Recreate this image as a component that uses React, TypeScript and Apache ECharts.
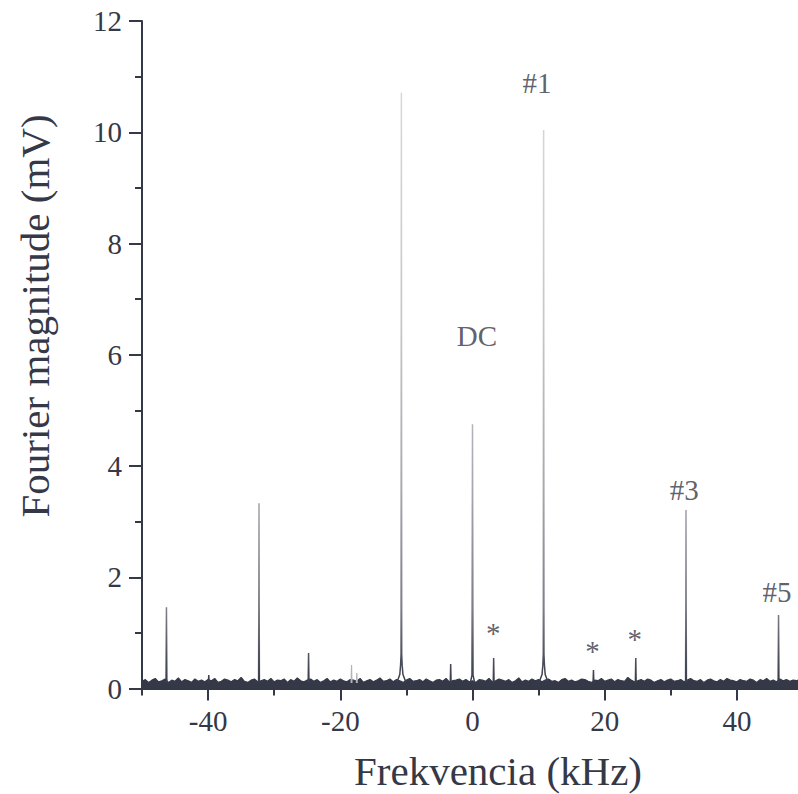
import React, { useEffect, useRef } from "react";
import * as echarts from "echarts";

// ---- data ----
const freqStart = -50; // kHz, first FFT bin shown
const freqStep = 0.5; // kHz between noise samples
const noiseFloor = [
  0.13, 0.16, 0.11, 0.15, 0.18, 0.12, 0.14, 0.17, 0.11, 0.15, 0.13, 0.19, 0.12, 0.16, 0.14, 0.11, 0.17, 0.13, 0.15, 0.12,
  0.16, 0.14, 0.18, 0.11, 0.13, 0.17, 0.15, 0.12, 0.16, 0.14, 0.20, 0.13, 0.11, 0.15, 0.17, 0.12, 0.14, 0.16, 0.13, 0.18,
  0.12, 0.15, 0.14, 0.17, 0.11, 0.16, 0.13, 0.19, 0.14, 0.12, 0.15, 0.17, 0.13, 0.16, 0.11, 0.14, 0.18, 0.12, 0.15, 0.13,
  0.17, 0.14, 0.12, 0.16, 0.15, 0.13, 0.18, 0.11, 0.14, 0.16, 0.12, 0.15, 0.19, 0.13, 0.14, 0.17, 0.12, 0.16, 0.14, 0.11,
  0.15, 0.18, 0.13, 0.14, 0.16, 0.12, 0.17, 0.14, 0.11, 0.15, 0.16, 0.13, 0.18, 0.12, 0.14, 0.15, 0.17, 0.13, 0.16, 0.12,
  0.14, 0.11, 0.16, 0.15, 0.13, 0.18, 0.12, 0.14, 0.17, 0.15, 0.13, 0.16, 0.11, 0.14, 0.19, 0.12, 0.15, 0.13, 0.17, 0.14,
  0.16, 0.12, 0.15, 0.17, 0.13, 0.14, 0.11, 0.16, 0.18, 0.13, 0.15, 0.12, 0.14, 0.17, 0.16, 0.13, 0.11, 0.15, 0.14, 0.18,
  0.13, 0.15, 0.17, 0.12, 0.16, 0.14, 0.13, 0.20, 0.15, 0.12, 0.14, 0.16, 0.13, 0.17, 0.15, 0.11, 0.14, 0.16, 0.12, 0.15,
  0.17, 0.13, 0.14, 0.16, 0.12, 0.15, 0.18, 0.14, 0.13, 0.16, 0.11, 0.15, 0.17, 0.14, 0.12, 0.16, 0.13, 0.18, 0.15, 0.14,
  0.12, 0.16, 0.14, 0.13, 0.17, 0.15, 0.11, 0.16, 0.14, 0.18, 0.13, 0.15, 0.12, 0.17, 0.14, 0.16, 0.13, 0.15, 0.14, 0.16,
];

// narrow spectral lines: frequency (kHz) and magnitude (mV)
const spikeFreqs = [-46.3, -39.9, -32.3, -24.8, -3.3, 3.2, 18.3, 24.7, 32.3, 46.3];
const spikeAmps = [1.46, 0.24, 3.33, 0.64, 0.44, 0.55, 0.33, 0.55, 3.21, 1.32];
const spikeBase = 0.1;
const spikeHalfWidth = 0.06;

// faint lines near -18 kHz
const faintFreqs = [-18.3, -17.5];
const faintAmps = [0.42, 0.28];

// broadened peaks (fundamental ±10.76 kHz and DC)
const fundamentalNeg = [
  [-11.4, 0.12], [-11.0, 0.25], [-10.88, 0.42], [-10.81, 0.62], [-10.76, 10.71],
  [-10.71, 0.62], [-10.64, 0.42], [-10.52, 0.25], [-10.1, 0.12],
];
const dcPeak = [[-0.3, 0.12], [-0.08, 0.24], [0, 4.75], [0.08, 0.24], [0.3, 0.12]];
const fundamentalPos = [
  [10.1, 0.12], [10.52, 0.25], [10.64, 0.42], [10.71, 0.62], [10.76, 10.04],
  [10.81, 0.62], [10.88, 0.42], [11.0, 0.25], [11.4, 0.12],
];

// annotations
const annotationText = ["#1", "DC", "#3", "#5", "*", "*", "*"];
const annotationX = [9.77, 0.68, 32.05, 46.06, 3.14, 18.14, 24.55];
const annotationY = [10.88, 6.33, 3.57, 1.73, 1.0, 0.67, 0.89];

const xMajorTicks = [-40, -20, 0, 20, 40];
const xMinorTicks = [-50, -30, -10, 10, 30];

const xTitle = "Frekvencia (kHz)";
const yTitle = "Fourier magnitude (mV)";

const INK = "#353846";
const FONT = "serif";

export default function App() {
  const ref = useRef<HTMLDivElement>(null);

  useEffect(() => {
    if (!ref.current) return;
    const chart = echarts.init(ref.current, undefined, { renderer: "svg" });

    const noiseData = noiseFloor.map((v, i) => [freqStart + i * freqStep, v]);

    const spikeData: any[] = [];
    spikeFreqs.forEach((f, i) => {
      spikeData.push([f - spikeHalfWidth, spikeBase], [f, spikeAmps[i]], [f + spikeHalfWidth, spikeBase], null);
    });
    [fundamentalNeg, dcPeak, fundamentalPos].forEach((shape) => {
      shape.forEach((p) => spikeData.push(p));
      spikeData.push(null);
    });
    const faintData: any[] = [];
    faintFreqs.forEach((f, i) => {
      faintData.push([f - spikeHalfWidth, spikeBase], [f, faintAmps[i]], [f + spikeHalfWidth, spikeBase], null);
    });

    const annData = annotationText.map((t, i) => ({ name: t, value: [annotationX[i], annotationY[i]] }));

    const peakGradient = new echarts.graphic.LinearGradient(
      0, 21, 0, 688,
      [
        { offset: 0, color: "#dcdcdf" },
        { offset: 0.45, color: "#c6c7cb" },
        { offset: 0.7, color: "#a7a8ae" },
        { offset: 0.88, color: "#7d7f89" },
        { offset: 0.96, color: "#4a4d5a" },
        { offset: 1, color: INK },
      ],
      true
    );

    chart.setOption({
      animation: false,
      grid: { left: 142, top: 21, width: 661, bottom: 105.5, containLabel: false },
      xAxis: [
        {
          type: "value",
          min: -50,
          max: 50,
          position: "bottom",
          axisLine: { show: true, onZero: false, lineStyle: { color: INK, width: 2 } },
          axisTick: { show: true, customValues: xMajorTicks, length: 12, lineStyle: { color: INK, width: 2 } },
          axisLabel: { show: true, customValues: xMajorTicks, margin: 18, fontFamily: FONT, fontSize: 29, color: INK },
          splitLine: { show: false },
        },
        {
          type: "value",
          min: -50,
          max: 50,
          position: "bottom",
          axisLine: { show: false, onZero: false },
          axisTick: { show: true, customValues: xMinorTicks, length: 7, lineStyle: { color: INK, width: 2 } },
          axisLabel: { show: false },
          splitLine: { show: false },
        },
      ],
      yAxis: {
        type: "value",
        min: 0,
        max: 12,
        interval: 2,
        axisLine: { show: true, onZero: false, lineStyle: { color: INK, width: 2 } },
        axisTick: { show: true, length: 13, lineStyle: { color: INK, width: 2 } },
        minorTick: { show: true, splitNumber: 2, length: 7, lineStyle: { color: INK, width: 2 } },
        axisLabel: { margin: 20, fontFamily: FONT, fontSize: 29, color: INK },
        splitLine: { show: false },
      },
      graphic: [
        {
          type: "text",
          x: 498,
          y: 771,
          style: {
            text: xTitle,
            fontFamily: FONT,
            fontSize: 41,
            fill: INK,
            align: "center",
            verticalAlign: "middle",
          },
        },
        {
          type: "text",
          x: 35,
          y: 316,
          rotation: Math.PI / 2,
          style: {
            text: yTitle,
            fontFamily: FONT,
            fontSize: 41,
            fill: INK,
            align: "center",
            verticalAlign: "middle",
          },
        },
      ],
      series: [
        {
          type: "line",
          name: "noise",
          xAxisIndex: 0,
          data: noiseData,
          showSymbol: false,
          symbol: "none",
          lineStyle: { color: INK, width: 1.2 },
          areaStyle: { color: INK, opacity: 1 },
          silent: true,
          z: 2,
        },
        {
          type: "line",
          name: "lines",
          xAxisIndex: 0,
          data: spikeData,
          connectNulls: false,
          showSymbol: false,
          symbol: "none",
          lineStyle: { color: peakGradient, width: 1.5 },
          silent: true,
          z: 3,
        },
        {
          type: "line",
          name: "faint",
          xAxisIndex: 0,
          data: faintData,
          connectNulls: false,
          showSymbol: false,
          symbol: "none",
          lineStyle: { color: "#b3b4b9", width: 1.2 },
          silent: true,
          z: 3,
        },
        {
          type: "scatter",
          name: "annotations",
          xAxisIndex: 0,
          data: annData,
          symbolSize: 0,
          itemStyle: { color: INK },
          silent: true,
          label: {
            show: true,
            position: "inside",
            formatter: (p: any) => p.name,
            fontFamily: FONT,
            fontSize: 29,
            color: INK,
            textBorderWidth: 0,
          },
          z: 4,
        },
      ],
    });

    return () => chart.dispose();
  }, []);

  return (
    <div style={{ position: "absolute", left: 0, top: 0, width: 798, height: 794, overflow: "hidden" }}>
      <div ref={ref} style={{ width: 812, height: 794 }} />
    </div>
  );
}
